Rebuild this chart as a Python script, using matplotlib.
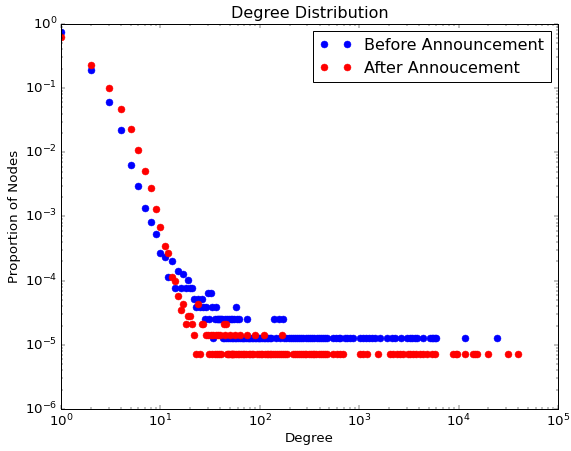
import matplotlib
matplotlib.use('Agg')
import matplotlib.pyplot as plt
import numpy as np

# Total nodes in each snapshot (proportion = count / total)
total_before = 78000
total_after = 141000

# Before announcement: degree -> number of nodes
deg_before = [1, 2, 3, 4, 5, 6, 7, 8, 9, 10, 11, 12, 13, 14, 15, 16, 17, 18, 19, 20,
              21, 22, 23, 24, 25, 26, 27, 28, 29, 30, 31, 32, 33, 34, 35, 36, 37, 38, 39, 40,
              41, 42, 43, 44, 45, 46, 47, 48, 49, 50, 51, 52, 53, 54, 55, 56, 57, 58, 59, 60,
              62, 63, 66, 68, 70, 72, 74, 76, 78, 80, 83, 86, 89, 92, 95, 98, 101, 105, 109, 113,
              117, 121, 126, 131, 138, 144, 155, 160, 172, 175, 185, 195, 205, 215, 226, 238, 250, 262, 275, 290,
              305, 320, 337, 355, 373, 392, 412, 435, 458, 480, 545, 580, 620, 645, 720, 760, 810, 870,
              1010, 1100, 1180, 1260, 1350, 1450, 1620, 1900, 2130, 2290, 2660, 3000, 3240, 3380, 3650, 3800,
              4350, 5150, 5370, 5600, 5780, 6000, 11700, 24600]
cnt_before = [58500, 14800, 4760, 1716, 500, 234, 105, 65, 41, 21, 18, 9, 16, 6, 11, 6, 10, 6, 8, 6,
              6, 4, 3, 4, 3, 4, 3, 2, 3, 5, 2, 5, 3, 1, 2, 3, 2, 2, 2, 2,
              2, 2, 1, 1, 2, 1, 2, 1, 2, 1, 2, 1, 2, 1, 2, 1, 3, 1, 2, 1,
              2, 1, 1, 1, 1, 1, 2, 1, 1, 1, 1, 1, 1, 1, 1, 1, 1, 1, 1, 1,
              1, 1, 1, 1, 2, 1, 2, 1, 2, 1, 1, 1, 1, 1, 1, 1, 1, 1, 1, 1,
              1, 1, 1, 1, 1, 1, 1, 1, 1, 1, 1, 1, 1, 1, 1, 1, 1, 1,
              1, 1, 1, 1, 1, 1, 1, 1, 1, 1, 1, 1, 1, 1, 1, 1,
              1, 1, 1, 1, 1, 1, 1, 1]

# After announcement: degree -> number of nodes
deg_after = [1, 2, 3, 4, 5, 6, 7, 8, 9, 10, 11, 12, 13, 14, 15, 16, 17, 18, 19, 20,
             21, 22, 23, 24, 25, 26, 27, 29, 30, 31, 32, 33, 34, 35, 36, 37, 38, 39, 40, 41,
             44, 45, 46, 47, 48, 49, 50, 51, 52, 53, 54, 55, 56, 58, 60, 62, 63, 65, 67, 70,
             72, 74, 77, 80, 83, 86, 90, 94, 98, 102, 105, 109, 113, 117, 121, 126, 131, 136, 142, 148,
             155, 162, 166, 170, 178, 187, 216, 226, 236, 247, 258, 270, 282, 295, 310, 325, 340, 355, 372, 390,
             410, 430, 452, 471, 545, 594, 640, 693, 1020, 1100, 1190, 1550, 2040, 2190, 2390, 2570, 2760, 3100,
             3240, 3470, 3720, 4070, 4370, 4780, 5370, 5750, 8900, 9330, 9550, 11500, 14100, 14800, 15500, 19900,
             31600, 40000]
cnt_after = [87400, 32400, 14100, 6630, 3240, 1550, 719, 395, 183, 97, 49, 38, 16, 14, 8, 5, 6, 3, 4, 4,
             3, 2, 1, 6, 1, 3, 3, 2, 2, 1, 2, 1, 2, 1, 2, 1, 2, 1, 2, 1,
             3, 2, 3, 1, 1, 1, 2, 1, 1, 1, 1, 1, 2, 1, 1, 1, 2, 1, 1, 1,
             1, 2, 1, 1, 1, 1, 2, 1, 1, 1, 1, 2, 1, 1, 1, 1, 1, 1, 1, 1,
             1, 1, 2, 1, 1, 1, 1, 1, 1, 1, 1, 1, 1, 1, 1, 1, 1, 1, 1, 1,
             1, 1, 1, 1, 1, 1, 1, 1, 1, 1, 1, 1, 1, 1, 1, 1, 1, 1,
             1, 1, 1, 1, 1, 1, 1, 1, 1, 1, 1, 1, 1, 1, 1, 1,
             1, 1]

plt.style.use('classic')
plt.rcParams['figure.facecolor'] = 'white'
plt.rcParams['savefig.facecolor'] = 'white'
plt.rcParams['font.size'] = 13.5

fig = plt.figure(figsize=(8.0, 6.319))
fig.subplots_adjust(left=0.107, right=0.977, bottom=0.093, top=0.947)
ax = fig.add_subplot(111)

p_before = np.array(cnt_before) / total_before
p_after = np.array(cnt_after) / total_after

ax.loglog(deg_before, p_before, 'o', color='b', mec='b', ms=7, label='Before Announcement')
ax.loglog(deg_after, p_after, 'o', color='r', mec='r', ms=7, label='After Annoucement')

ax.set_xlim(1, 1e5)
ax.set_ylim(1e-6, 1)
ax.set_xlabel('Degree', labelpad=2)
ax.set_ylabel('Proportion of Nodes', labelpad=4)
ax.set_title('Degree Distribution', fontsize=16.2, pad=6)
ax.legend(loc='upper right', fontsize=16.2, borderaxespad=0.45)

fig.savefig('out.png', dpi=571 / 8.0)
